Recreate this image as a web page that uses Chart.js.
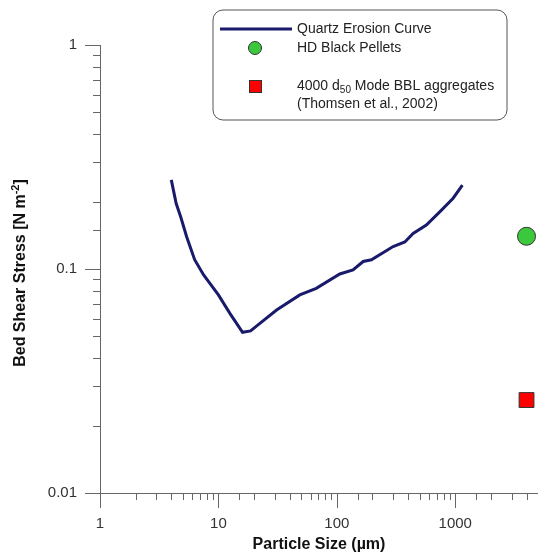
<!DOCTYPE html>
<html>
<head>
<meta charset="utf-8">
<script src="https://cdn.jsdelivr.net/npm/chart.js@4/dist/chart.umd.min.js"></script>
<style>
  html, body { margin: 0; padding: 0; background: #fff; }
  #wrap { position: relative; width: 538px; height: 554px; }
</style>
</head>
<body>
<div id="wrap"><canvas id="c" width="538" height="554"></canvas></div>
<script>
// ---- data ----
const curveSize = [4, 4.4, 4.8, 5.4, 6.3, 7.5, 10, 12.5, 16, 18.7, 22.4, 31, 48.7, 67, 106, 137, 167, 196, 299, 375, 441, 570, 740, 960, 1150];
const curveStress = [0.25, 0.196, 0.171, 0.139, 0.110, 0.094, 0.0766, 0.0634, 0.0522, 0.0529, 0.0572, 0.0656, 0.0766, 0.082, 0.095, 0.099, 0.108, 0.110, 0.126, 0.132, 0.144, 0.157, 0.180, 0.207, 0.237];
const pelletSize = [4000];
const pelletStress = [0.14];
const aggSize = [4000];
const aggStress = [0.026];
const xTickLabels = ['1', '10', '100', '1000'];
const yTickLabels = ['0.01', '0.1', '1'];

const NAVY = '#1a1a6b';
const GREEN = '#3cc83c';
const RED = '#ff0000';
const FONT = '"Liberation Sans", Arial, sans-serif';

function toPts(xs, ys) { return xs.map((x, i) => ({ x: x, y: ys[i] })); }
function isDecade(v) { const l = Math.log10(v); return Math.abs(l - Math.round(l)) < 1e-9; }

const tickPlugin = {
  id: 'customTicks',
  afterDraw(chart) {
    const ctx = chart.ctx;
    const xs = chart.scales.x, ys = chart.scales.y;
    const area = chart.chartArea;
    ctx.save();
    ctx.strokeStyle = '#666';
    ctx.lineWidth = 1;
    // x ticks
    xs.ticks.forEach(t => {
      const px = Math.round(xs.getPixelForValue(t.value)) + 0.5;
      const len = isDecade(t.value) ? 15 : 7;
      ctx.beginPath();
      ctx.moveTo(px, area.bottom);
      ctx.lineTo(px, area.bottom + len);
      ctx.stroke();
    });
    // y ticks
    ys.ticks.forEach(t => {
      const py = Math.round(ys.getPixelForValue(t.value)) + 0.5;
      const len = isDecade(t.value) ? 15 : 7;
      ctx.beginPath();
      ctx.moveTo(area.left, py);
      ctx.lineTo(area.left - len, py);
      ctx.stroke();
    });
    // axis titles
    ctx.fillStyle = '#111';
    ctx.font = 'bold 16px ' + FONT;
    ctx.textAlign = 'center';
    ctx.textBaseline = 'middle';
    ctx.fillText('Particle Size (\u00b5m)', (area.left + area.right) / 2, 545);

    // y title with superscript
    ctx.save();
    ctx.translate(21, (area.top + area.bottom) / 2 + 4);
    ctx.rotate(-Math.PI / 2);
    const main = 'Bed Shear Stress [N m';
    const sup = '-2';
    const end = ']';
    ctx.font = 'bold 16px ' + FONT;
    const wMain = ctx.measureText(main).width;
    const wEnd = ctx.measureText(end).width;
    ctx.font = 'bold 11px ' + FONT;
    const wSup = ctx.measureText(sup).width;
    const total = wMain + wSup + wEnd;
    let x0 = -total / 2;
    ctx.textAlign = 'left';
    ctx.font = 'bold 16px ' + FONT;
    ctx.fillText(main, x0, 0);
    ctx.font = 'bold 11px ' + FONT;
    ctx.fillText(sup, x0 + wMain, -5);
    ctx.font = 'bold 16px ' + FONT;
    ctx.fillText(end, x0 + wMain + wSup, 0);
    ctx.restore();

    // legend
    const L = 213, T = 10, R = 507, B = 120, rad = 10;
    ctx.beginPath();
    ctx.moveTo(L + rad, T);
    ctx.arcTo(R, T, R, B, rad);
    ctx.arcTo(R, B, L, B, rad);
    ctx.arcTo(L, B, L, T, rad);
    ctx.arcTo(L, T, R, T, rad);
    ctx.closePath();
    ctx.fillStyle = '#fff';
    ctx.fill();
    ctx.strokeStyle = '#555';
    ctx.lineWidth = 1;
    ctx.stroke();

    ctx.strokeStyle = NAVY;
    ctx.lineWidth = 3;
    ctx.beginPath();
    ctx.moveTo(220, 29);
    ctx.lineTo(292, 29);
    ctx.stroke();

    ctx.beginPath();
    ctx.arc(255, 48, 6.5, 0, Math.PI * 2);
    ctx.fillStyle = GREEN;
    ctx.fill();
    ctx.strokeStyle = '#333';
    ctx.lineWidth = 1;
    ctx.stroke();

    ctx.fillStyle = RED;
    ctx.fillRect(249, 80, 13, 13);
    ctx.strokeStyle = '#333';
    ctx.strokeRect(249.5, 80.5, 12, 12);

    ctx.fillStyle = '#222';
    ctx.font = '14px ' + FONT;
    ctx.textAlign = 'left';
    ctx.textBaseline = 'middle';
    ctx.fillText('Quartz Erosion Curve', 297, 29);
    ctx.fillText('HD Black Pellets', 297, 48);
    const a = '4000 d';
    ctx.fillText(a, 297, 86);
    let xx = 297 + ctx.measureText(a).width;
    ctx.font = '10px ' + FONT;
    ctx.fillText('50', xx, 90);
    xx += ctx.measureText('50').width;
    ctx.font = '14px ' + FONT;
    ctx.fillText(' Mode BBL aggregates', xx, 86);
    ctx.fillText('(Thomsen et al., 2002)', 297, 104);
    ctx.restore();
  }
};

new Chart(document.getElementById('c'), {
  type: 'scatter',
  data: {
    datasets: [
      {
        label: 'Quartz Erosion Curve',
        type: 'line',
        data: toPts(curveSize, curveStress),
        borderColor: NAVY,
        borderWidth: 3,
        pointRadius: 0,
        tension: 0,
        fill: false
      },
      {
        label: 'HD Black Pellets',
        data: toPts(pelletSize, pelletStress),
        pointStyle: 'circle',
        pointRadius: 9,
        backgroundColor: GREEN,
        borderColor: '#333',
        borderWidth: 1
      },
      {
        label: '4000 d50 Mode BBL aggregates (Thomsen et al., 2002)',
        data: toPts(aggSize, aggStress),
        pointStyle: 'rect',
        pointRadius: 10.5,
        backgroundColor: RED,
        borderColor: '#333',
        borderWidth: 1
      }
    ]
  },
  options: {
    responsive: false,
    animation: false,
    clip: false,
    layout: { autoPadding: false, padding: { top: 45, left: 0, right: 0, bottom: 0 } },
    plugins: { legend: { display: false }, tooltip: { enabled: false } },
    scales: {
      x: {
        type: 'logarithmic',
        min: 1,
        max: 5000,
        grid: { display: false, drawTicks: false },
        border: { display: true, color: '#666', width: 1 },
        ticks: {
          autoSkip: false,
          maxRotation: 0,
          padding: 22,
          color: '#333',
          font: { family: FONT, size: 15 },
          callback: (v) => { const s = String(v); return xTickLabels.includes(s) ? s : ''; }
        },
        afterFit: (s) => { s.height = 61; s.paddingRight = 0; s.paddingLeft = 0; }
      },
      y: {
        type: 'logarithmic',
        min: 0.01,
        max: 1,
        grid: { display: false, drawTicks: false },
        border: { display: true, color: '#666', width: 1 },
        ticks: {
          autoSkip: false,
          padding: 23,
          color: '#333',
          font: { family: FONT, size: 15 },
          callback: (v) => { const s = String(Number(v.toPrecision(6))); return yTickLabels.includes(s) ? s : ''; }
        },
        afterFit: (s) => { s.width = 100; }
      }
    }
  },
  plugins: [tickPlugin]
});
</script>
</body>
</html>
